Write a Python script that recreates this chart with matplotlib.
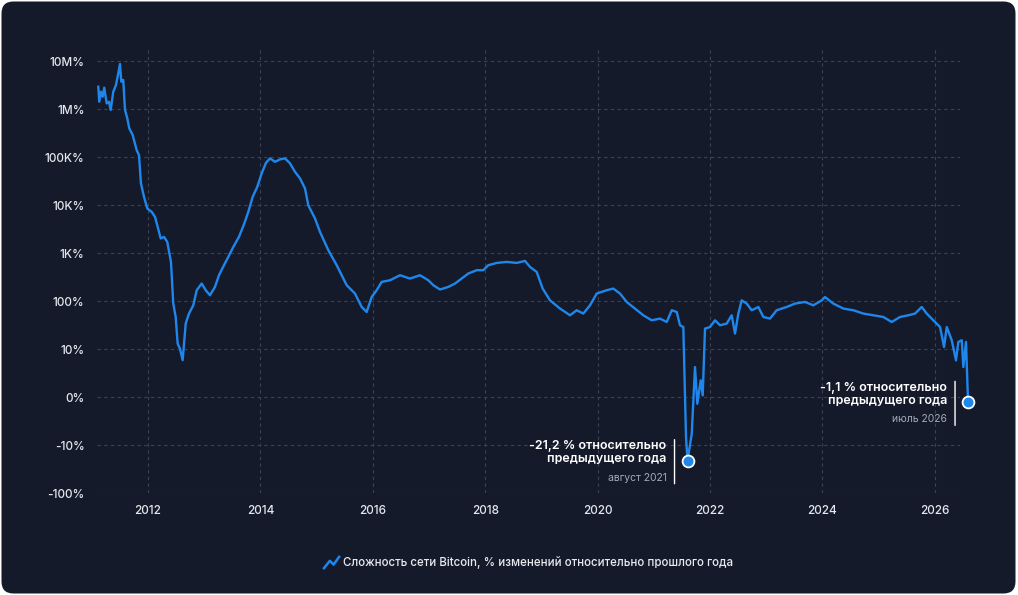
import matplotlib.pyplot as plt
from matplotlib.lines import Line2D
from matplotlib.patches import FancyBboxPatch
from matplotlib.path import Path
from matplotlib.text import OffsetFrom
from matplotlib.transforms import IdentityTransform

plt.rcParams['font.family'] = ['Inter', 'DejaVu Sans']

# годовое изменение сложности сети, %
years = [
    2011.116, 2011.133, 2011.164, 2011.194, 2011.222, 2011.265, 2011.306, 2011.336, 2011.383, 2011.431,
    2011.472, 2011.502, 2011.525, 2011.560, 2011.591, 2011.632, 2011.667, 2011.728, 2011.799, 2011.840,
    2011.875, 2011.929, 2011.988, 2012.066, 2012.125, 2012.165, 2012.226, 2012.285, 2012.343, 2012.409,
    2012.450, 2012.493, 2012.528, 2012.569, 2012.617, 2012.671, 2012.730, 2012.806, 2012.867, 2012.956,
    2013.027, 2013.103, 2013.192, 2013.263, 2013.352, 2013.429, 2013.518, 2013.619, 2013.714, 2013.785,
    2013.863, 2013.945, 2014.023, 2014.100, 2014.171, 2014.260, 2014.349, 2014.438, 2014.527, 2014.616,
    2014.705, 2014.794, 2014.852, 2014.972, 2015.060, 2015.208, 2015.358, 2015.536, 2015.683, 2015.802,
    2015.891, 2015.980, 2016.069, 2016.158, 2016.306, 2016.484, 2016.662, 2016.840, 2016.988, 2017.077,
    2017.196, 2017.343, 2017.463, 2017.582, 2017.699, 2017.849, 2017.966, 2018.055, 2018.205, 2018.383,
    2018.560, 2018.708, 2018.797, 2018.916, 2019.023, 2019.153, 2019.331, 2019.509, 2019.628, 2019.746,
    2019.865, 2019.984, 2020.162, 2020.279, 2020.399, 2020.518, 2020.665, 2020.813, 2020.963, 2021.110,
    2021.230, 2021.319, 2021.408, 2021.466, 2021.525, 2021.573, 2021.600, 2021.675, 2021.733, 2021.774,
    2021.834, 2021.870, 2021.911, 2022.000, 2022.089, 2022.178, 2022.297, 2022.386, 2022.445, 2022.504,
    2022.564, 2022.653, 2022.742, 2022.860, 2022.949, 2023.068, 2023.185, 2023.365, 2023.512, 2023.690,
    2023.838, 2023.988, 2024.046, 2024.194, 2024.372, 2024.550, 2024.728, 2024.906, 2025.084, 2025.233,
    2025.381, 2025.529, 2025.648, 2025.767, 2025.856, 2025.973, 2026.093, 2026.164, 2026.212, 2026.301,
    2026.377, 2026.418, 2026.479, 2026.507, 2026.555, 2026.591,
]
growth = [
    2.96e6, 1.44e6, 2.33e6, 1.83e6, 2.83e6, 1.33e6, 1.44e6, 0.97e6, 2.33e6, 3.22e6,
    5.65e6, 8.83e6, 3.77e6, 4.09e6, 0.97e6, 649e3, 401e3, 291e3, 141e3, 111e3,
    28.5e3, 15e3, 8.57e3, 7.28e3, 5.73e3, 3.84e3, 2.03e3, 2.19e3, 1.72e3, 658,
    89, 46.8, 13, 10.2, 7.7, 34.1, 55.1, 82, 169, 233,
    169, 133, 198, 347, 561, 837, 1350, 2190, 4170, 7280,
    15000, 24200, 46100, 76800, 94800, 80500, 90400, 94800, 74600, 49800,
    36300, 22400, 10000, 5300, 2790, 1160, 561, 215, 144, 75.7,
    59.5, 122, 169, 252, 273, 347, 296, 347, 273, 215,
    175, 198, 233, 296, 377, 442, 442, 561, 627, 658,
    627, 691, 518, 407, 183, 104, 70.1, 50.8, 64.6, 55.1,
    82, 144, 169, 183, 144, 96.2, 70.1, 50.8, 39.9, 43.3,
    36.8, 64.6, 59.5, 31.4, 28.9, -8.35, -21.2, -7.64, 6.26, -1.38,
    3.49, 0.35, 26.8, 28.9, 39.9, 31.4, 34.1, 50.8, 21.1, 55.1,
    104, 89, 64.6, 75.7, 46.8, 43.3, 64.6, 75.7, 89, 96.2,
    82, 104, 122, 89, 70.1, 64.6, 55.1, 50.8, 46.8, 36.8,
    46.8, 50.8, 55.1, 75.7, 55.1, 39.9, 28.9, 11.1, 28.9, 15.3,
    7.66, 14.1, 15.3, 6.26, 14.1, -1.1,
]

y_ticks = [-100, -10, 0, 10, 100, 1e3, 1e4, 1e5, 1e6, 1e7]
y_labels = ['-100%', '-10%', '0%', '10%', '100%', '1K%', '10K%', '100K%', '1M%', '10M%']
x_ticks = list(range(2012, 2027, 2))

callout_years = [2021.600, 2026.591]
callout_values = [-21.2, -1.1]
callout_texts = ['-21,2 % относительно\nпредыдущего года', '-1,1 % относительно\nпредыдущего года']
callout_dates = ['август 2021', 'июль 2026']

legend_label = 'Сложность сети Bitcoin, % изменений относительно прошлого года'

bg = '#141a2a'
blue = '#1f87ec'
grid_col = '#3a4253'
tick_col = '#e4e7ec'

fig = plt.figure(figsize=(10.18, 5.95), dpi=100, facecolor='white')
panel = FancyBboxPatch((1.5, 1.5), 1014, 592, boxstyle='round,pad=0,rounding_size=12',
                       facecolor=bg, edgecolor='none', transform=IdentityTransform(), zorder=-10)
fig.add_artist(panel)

ax = fig.add_axes([97 / 1018, 102 / 595, 863 / 1018, 445 / 595])
ax.patch.set_alpha(0)
ax.set_yscale('symlog', linthresh=10, linscale=0.9)
ax.set_ylim(-100, 1.9e7)
ax.set_xlim(2011.093, 2026.448)

ax.set_yticks(y_ticks)
ax.set_yticklabels(y_labels)
ax.set_xticks(x_ticks)
ax.set_xticklabels([str(t) for t in x_ticks])
ax.minorticks_off()
ax.tick_params(length=0, colors=tick_col, labelsize=8.5)
ax.tick_params(axis='y', pad=9)
ax.tick_params(axis='x', pad=9)
for lab in ax.get_xticklabels() + ax.get_yticklabels():
    lab.set_fontweight(500)
for s in ax.spines.values():
    s.set_visible(False)
ax.grid(True, color=grid_col, linestyle=(0, (3, 3)), linewidth=0.8)
ax.set_axisbelow(True)

ax.plot(years, growth, color=blue, lw=1.7, clip_on=False, solid_joinstyle='round', zorder=3)

for cx, cy, txt, dt in zip(callout_years, callout_values, callout_texts, callout_dates):
    ax.plot(cx, cy, 'o', ms=8.5, mfc=blue, mec='white', mew=1.3, clip_on=False, zorder=5)
    ax.annotate(txt, xy=(cx, cy), xytext=(-21, 8), textcoords='offset pixels',
                ha='right', va='center', color='white', fontsize=9, fontweight='semibold',
                linespacing=1.05, annotation_clip=False)
    ax.annotate(dt, xy=(cx, cy), xytext=(-21, -17), textcoords='offset pixels',
                ha='right', va='center', color='#a3aab6', fontsize=7.5, annotation_clip=False)
    ref = OffsetFrom(ax.transData, (cx, cy), unit='pixels')
    ax.annotate('', xy=(-13, -23), xycoords=ref, xytext=(-13, 21), textcoords=ref,
                annotation_clip=False,
                arrowprops=dict(arrowstyle='-', color='white', lw=1.0, shrinkA=0, shrinkB=0))

zig = Path([(-1.0, -0.8), (-0.2, 0.2), (0.25, -0.25), (1.0, 0.8)],
           [Path.MOVETO, Path.LINETO, Path.LINETO, Path.LINETO])
handle = Line2D([], [], linestyle='none', marker=zig, markersize=12,
                markeredgecolor=blue, markerfacecolor='none', markeredgewidth=1.8)
leg = ax.legend([handle], [legend_label], loc='center', bbox_to_anchor=(0.5, -0.157),
                frameon=False, handlelength=1.2, handletextpad=0.5,
                labelcolor='#e8eaee', prop={'size': 8.3, 'weight': 500})

fig.savefig('out.png', dpi=100, facecolor='white')
